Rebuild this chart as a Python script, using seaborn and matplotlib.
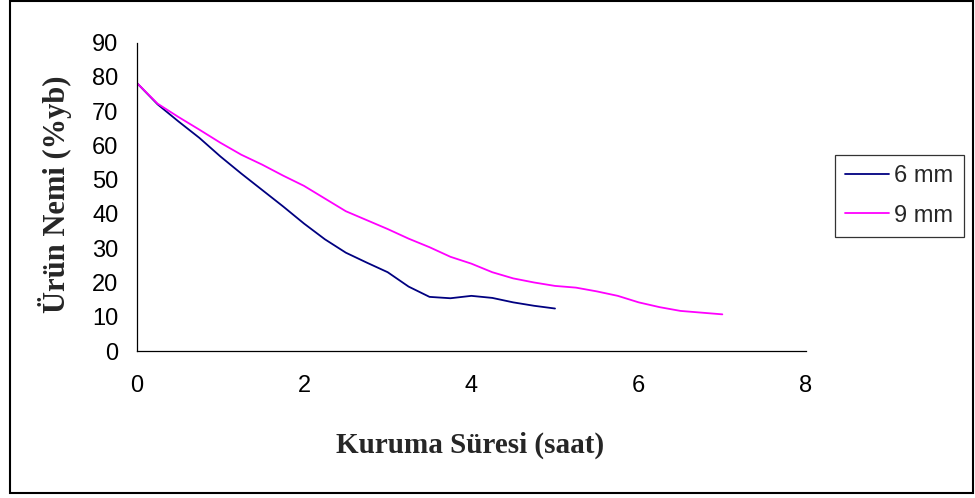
import matplotlib
matplotlib.use("Agg")
import matplotlib.pyplot as plt
import seaborn as sns
import pandas as pd
from matplotlib.patches import Rectangle

# Data
time_6mm = [0, 0.25, 0.5, 0.75, 1.0, 1.25, 1.5, 1.75, 2.0, 2.25, 2.5, 2.75, 3.0,
            3.25, 3.5, 3.75, 4.0, 4.25, 4.5, 4.75, 5.0]
moist_6mm = [78.3, 72.0, 67.0, 62.2, 56.8, 51.8, 47.0, 42.2, 37.2, 32.6, 28.7, 25.8, 23.0,
             18.8, 15.8, 15.4, 16.1, 15.5, 14.2, 13.2, 12.4]
time_9mm = [0, 0.25, 0.5, 0.75, 1.0, 1.25, 1.5, 1.75, 2.0, 2.25, 2.5, 2.75, 3.0, 3.25,
            3.5, 3.75, 4.0, 4.25, 4.5, 4.75, 5.0, 5.25, 5.5, 5.75, 6.0, 6.25, 6.5, 6.75, 7.0]
moist_9mm = [78.3, 72.2, 68.3, 64.6, 60.8, 57.3, 54.4, 51.2, 48.2, 44.5, 40.8, 38.2, 35.6, 32.8,
             30.3, 27.5, 25.5, 23.0, 21.2, 20.0, 19.0, 18.5, 17.4, 16.1, 14.2, 12.8, 11.7, 11.2, 10.7]
series_labels = ["6 mm", "9 mm"]
series_colors = ["#000080", "#FF00FF"]
x_ticks = [0, 2, 4, 6, 8]
y_ticks = [0, 10, 20, 30, 40, 50, 60, 70, 80, 90]
x_title = "Kuruma Süresi (saat)"
y_title = "Ürün Nemi (%yb)"

sns.set_style("white")
plt.rcParams['font.family'] = ['Liberation Sans', 'DejaVu Sans']

W, H = 975, 498
fig = plt.figure(figsize=(W / 100, H / 100), dpi=100)
ax = fig.add_axes([136.7 / W, 1 - 351 / H, (806 - 136.7) / W, (351 - 42.7) / H])

df6 = pd.DataFrame({"t": time_6mm, "m": moist_6mm})
df9 = pd.DataFrame({"t": time_9mm, "m": moist_9mm})
sns.lineplot(data=df6, x="t", y="m", ax=ax, color=series_colors[0], lw=1.3,
             label=series_labels[0], sort=False)
sns.lineplot(data=df9, x="t", y="m", ax=ax, color=series_colors[1], lw=1.3,
             label=series_labels[1], sort=False)

ax.set_xlim(0, 8)
ax.set_ylim(0, 90)
ax.set_xticks(x_ticks)
ax.set_yticks(y_ticks)
ax.set_xlabel("")
ax.set_ylabel("")
for s in ["top", "right"]:
    ax.spines[s].set_visible(False)
for s in ["left", "bottom"]:
    ax.spines[s].set_color("black")
    ax.spines[s].set_linewidth(0.9)
ax.tick_params(axis="both", direction="out", length=5.2, width=0.8, color="black",
               labelsize=17, labelcolor="black")
ax.tick_params(axis="x", pad=12)
ax.tick_params(axis="y", pad=8)
ax.set_facecolor("white")

fig.text(470 / W, 1 - 453 / H, x_title, ha="center", va="baseline",
         fontsize=21, fontweight="bold", family=["Liberation Serif", "DejaVu Serif"])
fig.text(55 / W, 1 - 194 / H, y_title, ha="center", va="center", rotation=90,
         fontsize=22, fontweight="bold", family=["Liberation Serif", "DejaVu Serif"])

leg = ax.legend(loc="upper left", bbox_to_anchor=(835 / W, 1 - 155 / H),
                bbox_transform=fig.transFigure, frameon=True, fancybox=False,
                fontsize=17, handlelength=1.85, handletextpad=0.25,
                labelspacing=0.75, borderpad=0.42, borderaxespad=0)
leg.get_frame().set_edgecolor("black")
leg.get_frame().set_linewidth(0.9)

fig.patches.append(Rectangle((10 / W, 1 - 492.5 / H), (973 - 10) / W, (492.5 - 1.5) / H,
                             transform=fig.transFigure, fill=False,
                             edgecolor="black", linewidth=1.5, zorder=10))

fig.savefig("out.png", dpi=100, facecolor="white")
